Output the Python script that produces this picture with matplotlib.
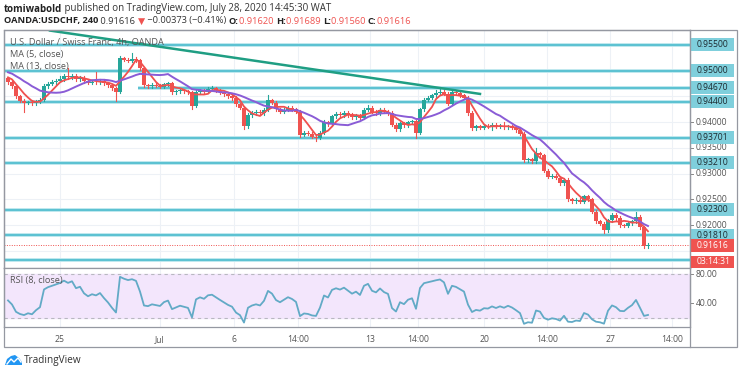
import numpy as np
import pandas as pd
import matplotlib
matplotlib.use("Agg")
import matplotlib.pyplot as plt
from matplotlib.patches import Rectangle, Polygon
from matplotlib.transforms import blended_transform_factory

W, H = 740, 373

# ---- data (4h candles) ----
pre_closes = [0.9505, 0.9512, 0.9500, 0.9508, 0.9498, 0.9506, 0.9494, 0.9502,
              0.9490, 0.9497, 0.9486, 0.9485]
closes = [
    0.9478, 0.9470, 0.9450, 0.9442, 0.9438, 0.9440, 0.9437, 0.9441, 0.9444, 0.9470,
    0.9475, 0.9478, 0.9481, 0.9484, 0.9489, 0.9487, 0.9490, 0.9484, 0.9486, 0.9480,
    0.9477, 0.9479, 0.9478, 0.9480, 0.9476, 0.9472, 0.9466, 0.9459, 0.9524, 0.9521,
    0.9519, 0.9522, 0.9520, 0.9505, 0.9472, 0.9470, 0.9473, 0.9471, 0.9469, 0.9474,
    0.9476, 0.9458, 0.9460, 0.9462, 0.9460, 0.9458, 0.9432, 0.9458, 0.9462, 0.9459,
    0.9465, 0.9466, 0.9462, 0.9458, 0.9454, 0.9450, 0.9447, 0.9435, 0.9428, 0.9392,
    0.9414, 0.9418, 0.9420, 0.9417, 0.9424, 0.9443, 0.9438, 0.9425, 0.9420, 0.9424,
    0.9428, 0.9425, 0.9420, 0.9376, 0.9380, 0.9378, 0.9372, 0.9370, 0.9380, 0.9400,
    0.9396, 0.9412, 0.9416, 0.9414, 0.9418, 0.9414, 0.9410, 0.9413, 0.9409, 0.9424,
    0.9428, 0.9420, 0.9418, 0.9424, 0.9420, 0.9418, 0.9395, 0.9386, 0.9398, 0.9394,
    0.9400, 0.9402, 0.9380, 0.9425, 0.9444, 0.9448, 0.9452, 0.9456, 0.9459, 0.9455,
    0.9436, 0.9458, 0.9456, 0.9452, 0.9448, 0.9418, 0.9388, 0.9392, 0.9389, 0.9393,
    0.9392, 0.9395, 0.9391, 0.9393, 0.9390, 0.9392, 0.9389, 0.9384, 0.9378, 0.9326,
    0.9328, 0.9324, 0.9340, 0.9336, 0.9306, 0.9294, 0.9296, 0.9292, 0.9282, 0.9288,
    0.9250, 0.9247, 0.9249, 0.9246, 0.9256, 0.9250, 0.9226, 0.9208, 0.9203, 0.9190,
    0.9210, 0.9220, 0.9214, 0.9200, 0.9199, 0.9204, 0.9208, 0.9216, 0.9196, 0.9160,
    0.91616]
# wick lengths in pips
upper_wick = [
    3, 2, 3, 2, 3, 2, 3, 2, 3, 4,
    3, 4, 3, 5, 4, 16, 3, 3, 4, 3,
    3, 3, 18, 3, 3, 3, 3, 3, 4, 3,
    3, 12, 4, 3, 3, 3, 3, 3, 3, 3,
    3, 3, 3, 3, 3, 3, 3, 4, 3, 3,
    3, 4, 3, 3, 3, 3, 3, 3, 3, 3,
    3, 3, 3, 3, 3, 10, 3, 3, 3, 3,
    3, 3, 3, 3, 3, 3, 3, 3, 3, 4,
    3, 3, 3, 3, 3, 3, 3, 3, 3, 3,
    6, 3, 3, 3, 3, 3, 3, 3, 3, 3,
    3, 3, 3, 3, 4, 3, 3, 6, 6, 3,
    3, 3, 3, 3, 3, 3, 3, 3, 3, 3,
    3, 3, 3, 3, 8, 3, 3, 3, 3, 3,
    3, 3, 10, 3, 3, 3, 3, 3, 3, 3,
    3, 3, 3, 3, 3, 3, 3, 3, 3, 3,
    3, 3, 3, 3, 3, 3, 3, 10, 4, 3, 4]
lower_wick = [
    3, 3, 3, 3, 19, 3, 3, 3, 3, 3,
    3, 3, 3, 3, 3, 3, 3, 3, 3, 3,
    3, 3, 3, 3, 3, 3, 3, 18, 3, 3,
    3, 3, 3, 3, 3, 3, 3, 3, 3, 3,
    3, 3, 3, 3, 3, 3, 6, 3, 3, 3,
    3, 3, 3, 3, 3, 3, 3, 3, 3, 6,
    3, 3, 3, 3, 3, 3, 3, 3, 3, 3,
    3, 3, 3, 4, 3, 3, 3, 6, 3, 3,
    3, 3, 3, 3, 3, 3, 3, 3, 3, 3,
    3, 3, 3, 3, 3, 3, 3, 3, 3, 3,
    3, 3, 10, 3, 3, 3, 3, 3, 3, 3,
    3, 3, 3, 3, 3, 3, 3, 3, 3, 3,
    3, 8, 3, 3, 3, 3, 3, 3, 3, 3,
    3, 3, 3, 3, 3, 3, 3, 3, 3, 3,
    3, 3, 3, 3, 3, 3, 3, 3, 3, 6,
    3, 3, 3, 3, 3, 3, 3, 3, 3, 4, 4]

levels = [0.955, 0.950, 0.9467, 0.944, 0.93701, 0.9321, 0.923, 0.9181, 0.9132]
level_labels = ["0.95500", "0.95000", "0.94670", "0.94400", "0.93701",
                "0.93210", "0.92300", "0.91810", None]
level_starts = [-1, -1, 32.5, -1, -1, -1, -1, -1, -1]
plain_ticks = [0.940, 0.935, 0.930, 0.925, 0.920]
trend_x = [10.5, 118]
trend_y = [0.9578, 0.9455]
xtick_pos = [13, 38, 56.5, 72.5, 90.5, 102.5, 119, 134.75, 150.5, 166]
xtick_labels = ["25", "Jul", "6", "14:00", "13", "14:00", "20", "14:00", "27", "14:00"]
last_price = 0.91616

# ---- derived series (indicators) ----
allc = pd.Series(pre_closes + closes)
n0 = len(pre_closes)
ma5 = allc.rolling(5).mean().values[n0:]
ma13 = allc.rolling(13).mean().values[n0:]
d = allc.diff()
up = d.clip(lower=0).ewm(alpha=1 / 8, adjust=False).mean()
dn = (-d.clip(upper=0)).ewm(alpha=1 / 8, adjust=False).mean()
rsi = (100 - 100 / (1 + up / dn)).values[n0:]

plt.rcParams['font.family'] = ['Open Sans', 'DejaVu Sans']
fig = plt.figure(figsize=(W / 100, H / 100), dpi=100)

def fx(px):
    return px / W

def fy(py):
    return 1 - py / H

frame_col = '#9598a1'
grid_col = '#edf1f6'

ax = fig.add_axes([fx(4), fy(268), fx(686), 238 / H])
ax2 = fig.add_axes([fx(4), fy(327), fx(686), 59 / H])
for a in (ax, ax2):
    a.set_xlim(-1, 170.5)
    for s in a.spines.values():
        s.set_color(frame_col)
        s.set_linewidth(0.9)
    a.tick_params(length=0)
    for xp in xtick_pos:
        a.axvline(xp, color=grid_col, lw=0.8, zorder=0)
ax.set_ylim(0.91170, 0.95791)
ax.set_xticks([])
ax.set_yticks([])
for gy in np.arange(0.915, 0.9576, 0.005):
    ax.axhline(gy, color=grid_col, lw=0.8, zorder=0)

# candles
x = np.arange(len(closes))
opens = [pre_closes[-1]] + closes[:-1]
for i in x:
    o, c = opens[i], closes[i]
    col = '#26a69a' if c >= o else '#ef5350'
    hi = max(o, c) + upper_wick[i] * 1e-4
    lo = min(o, c) - lower_wick[i] * 1e-4
    ax.plot([i, i], [lo, hi], color=col, lw=0.8, zorder=3)
    ax.add_patch(Rectangle((i - 0.38, min(o, c)), 0.76, max(abs(c - o), 0.0001),
                           fc=col, ec='none', zorder=4))

ax.plot(x, ma5, color='#f0504f', lw=1.3, zorder=5)
ax.plot(x, ma13, color='#8a5cd6', lw=1.4, zorder=5)

# support/resistance levels
for lv, st in zip(levels, level_starts):
    ax.plot([st, 170.5], [lv, lv], color='#bde7ee', lw=2.8, zorder=1,
            solid_capstyle='butt')
    ax.plot([st, 170.5], [lv, lv], color='#53bfcf', lw=1.3, zorder=2,
            solid_capstyle='butt')
ax.plot(trend_x, trend_y, color='#1f9e83', lw=1.8, zorder=6, clip_on=True)
ax.axhline(last_price, color='#ef5350', lw=0.7, ls=(0, (1, 1.5)), zorder=2)

# right price scale
tr = blended_transform_factory(fig.transFigure, ax.transData)
for v in plain_ticks:
    ax.plot([fx(690), fx(693)], [v, v], color='#888', lw=0.7, transform=tr, clip_on=False)
    ax.text(fx(696), v, f"{v:.5f}", transform=tr, fontsize=6.2, color='#555',
            va='center', ha='left')
for lv, lab in zip(levels, level_labels):
    if lab is None:
        continue
    ax.add_patch(Rectangle((fx(691), lv - 6.5 / 5150), fx(43), 13 / 5150, transform=tr,
                           fc='#7fcfdc', ec='none', clip_on=False, zorder=7))
    ax.text(fx(697), lv, lab, transform=tr, fontsize=6.2, color='#1d2a30',
            va='center', ha='left', zorder=8)
ax.add_patch(Rectangle((fx(691), last_price - 6.5 / 5150), fx(43), 13 / 5150, transform=tr,
                       fc='#ef5350', ec='none', clip_on=False, zorder=7))
ax.text(fx(697), last_price, f"{last_price:.5f}", transform=tr, fontsize=6.2,
        color='white', va='center', ha='left', zorder=8)
fig.patches.append(Rectangle((fx(691), fy(268)), fx(43), 12 / H, transform=fig.transFigure,
                             fc='#ef5350', ec='none', zorder=7))
fig.text(fx(697), fy(262), "03:14:31", fontsize=6.2, color='white', va='center', ha='left',
         zorder=8)

# RSI pane
ax2.set_ylim(6.9, 88.3)
ax2.set_yticks([])
ax2.axhspan(20, 80, color='#f3e6fc', zorder=0)
ax2.axhline(80, color='#b8b8c0', lw=0.8, ls=(0, (3, 3)), zorder=1)
ax2.axhline(20, color='#b8b8c0', lw=0.8, ls=(0, (3, 3)), zorder=1)
ax2.plot(x, rsi, color='#62aac6', lw=1.3, zorder=3)
tr2 = blended_transform_factory(fig.transFigure, ax2.transData)
for v in (80, 40):
    ax2.plot([fx(690), fx(693)], [v, v], color='#888', lw=0.7, transform=tr2, clip_on=False)
    ax2.text(fx(696), v, f"{v:.2f}", transform=tr2, fontsize=6.2, color='#555',
             va='center', ha='left')
ax2.set_xticks(xtick_pos)
ax2.set_xticklabels(xtick_labels, fontsize=6.2, color='#555')
ax2.tick_params(axis='x', pad=6)

# outer frame
fig.patches.append(Rectangle((fx(4), fy(347)), fx(733), (347 - 30) / H,
                             transform=fig.transFigure, fc='none', ec=frame_col, lw=0.9))
fig.lines.append(plt.Line2D([fx(690), fx(690)], [fy(347), fy(30)], transform=fig.transFigure,
                            color=frame_col, lw=0.9))

# legends inside panes
ax.text(fx(10), fy(42), "U.S. Dollar / Swiss Franc, 4h, OANDA", transform=fig.transFigure,
        fontsize=6.6, color='#555', va='center', zorder=9)
ax.text(fx(10), fy(54), "MA (5, close)", transform=fig.transFigure,
        fontsize=6.6, color='#555', va='center', zorder=9)
ax.text(fx(10), fy(66), "MA (13, close)", transform=fig.transFigure,
        fontsize=6.6, color='#555', va='center', zorder=9)
ax2.text(fx(10), fy(280), "RSI (8, close)", transform=fig.transFigure,
         fontsize=6.6, color='#555', va='center', zorder=9)

# header
renderer = fig.canvas.get_renderer()

def run_text(px, py, parts, size):
    for txt, col, wt in parts:
        t = fig.text(fx(px), fy(py), txt, fontsize=size, color=col, fontweight=wt,
                     va='center', ha='left')
        bb = t.get_window_extent(renderer)
        px = bb.x1 + 0.1

run_text(4, 9, [("tomiwabold", '#222', 'bold'),
                (" published on TradingView.com, July 28, 2020 14:45:30 WAT", '#333', 'normal')],
         7.0)
run_text(4, 21, [("OANDA:USDCHF, 240", '#222', 'bold'),
                 (" 0.91616 ", '#333', 'normal'),
                 ("▼", '#ef5350', 'normal'),
                 (" \u22120.00373 (\u22120.41%) ", '#333', 'normal'),
                 ("O:", '#222', 'bold'), ("0.91620 ", '#ef5350', 'normal'),
                 ("H:", '#222', 'bold'), ("0.91689 ", '#ef5350', 'normal'),
                 ("L:", '#222', 'bold'), ("0.91560 ", '#ef5350', 'normal'),
                 ("C:", '#222', 'bold'), ("0.91616", '#ef5350', 'normal')],
         6.7)

# logo
cloud = Polygon([(fx(5), fy(365)), (fx(7), fy(359)), (fx(11), fy(356)), (fx(15), fy(355)),
                 (fx(19), fy(358)), (fx(22), fy(362)), (fx(22), fy(365))],
                closed=True, transform=fig.transFigure, fc='#2196f3', ec='none')
fig.patches.append(cloud)
fig.lines.append(plt.Line2D([fx(7), fx(11), fx(14), fx(18), fx(21)],
                            [fy(364), fy(359), fy(362), fy(358), fy(362)],
                            transform=fig.transFigure, color='white', lw=1))
fig.text(fx(24), fy(360), "TradingView", fontsize=7.2, color='#333', va='center', ha='left')

fig.savefig("out.png", dpi=100)
